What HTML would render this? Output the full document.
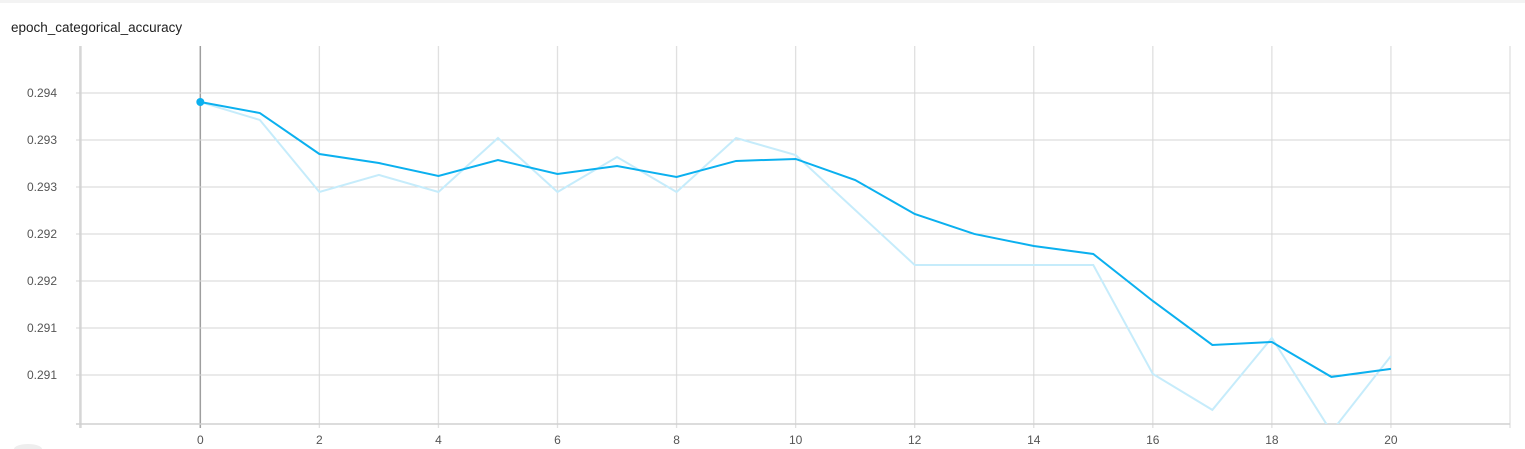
<!DOCTYPE html>
<html><head><meta charset="utf-8"><style>
html,body{margin:0;padding:0;background:#fff;width:1525px;height:449px;overflow:hidden;font-family:"Liberation Sans",sans-serif}
#top{position:absolute;left:0;top:0;width:1525px;height:3px;background:#f3f3f3}
#title{position:absolute;left:11px;top:20px;font-size:13.5px;color:#212121}
svg{position:absolute;left:0;top:0;overflow:hidden;display:block}
</style></head><body>
<div id="top"></div>
<div id="title">epoch_categorical_accuracy</div>
<svg id="chart" width="1525" height="449">
<defs><clipPath id="clip"><rect x="80" y="46" width="1430" height="378"/></clipPath></defs>
<g id="grid"></g><g id="axes"></g><g id="series" clip-path="url(#clip)"></g>
<path d="M14 449 A14 5 0 0 1 42 449 Z" fill="#eee"/>
</svg>
<script>
const epochs=[0,1,2,3,4,5,6,7,8,9,10,11,12,13,14,15,16,17,18,19,20];
const smoothed=[0.293904,0.293787,0.293351,0.293255,0.293117,0.293287,0.293138,0.293223,0.293106,0.293277,0.293298,0.293074,0.292713,0.2925,0.292372,0.292287,0.291787,0.291319,0.291351,0.290979,0.291064];
const raw=[0.293904,0.293713,0.292947,0.293128,0.292947,0.293521,0.292947,0.293319,0.292947,0.293521,0.29334,0.292755,0.29217,0.29217,0.29217,0.29217,0.291011,0.290628,0.291394,0.290394,0.291202];
const yTicks=[0.294,0.2935,0.293,0.2925,0.292,0.2915,0.291];
const yTickLabels=["0.294","0.293","0.293","0.292","0.292","0.291","0.291"];
const xTicks=[0,2,4,6,8,10,12,14,16,18,20];
const xGrid=[-2,0,2,4,6,8,10,12,14,16,18,20,22];

const X0=80,X1=1510,Y0=46,Y1=424;
const xMin=-2.021,xMax=22.0;
const yMax=0.2945,yMin=0.290478;
const sx=v=>X0+(v-xMin)/(xMax-xMin)*(X1-X0);
const sy=v=>Y0+(yMax-v)/(yMax-yMin)*(Y1-Y0);
const NS="http://www.w3.org/2000/svg";
function mk(t,a,p){const e=document.createElementNS(NS,t);for(const k in a)e.setAttribute(k,a[k]);p.appendChild(e);return e;}
const grid=document.getElementById('grid'),axes=document.getElementById('axes'),ser=document.getElementById('series');
xGrid.forEach(v=>{const x=sx(v);if(x<X0-2||x>X1+2)return;
 const l=mk('line',{x1:x,x2:x,y1:Y0,y2:Y1+4,stroke:v===0?'#9e9e9e':'#e0e0e0','stroke-width':v===0?1.5:1.3},grid);
 });
yTicks.forEach((v,i)=>{const y=sy(v);
 const l=mk('line',{x1:X0-4,x2:X1,y1:y,y2:y,stroke:'#d6d6d6','stroke-width':1},grid);
 
 const t=mk('text',{x:X0-23,y:y+4,'text-anchor':'end','font-size':12,fill:'#555','font-family':'Liberation Sans, sans-serif'},axes);
 t.textContent=yTickLabels[i];
 });
let a=mk('line',{x1:X0,x2:X0,y1:Y0,y2:Y1+4,stroke:'#d0d0d0','stroke-width':1.5},axes);

a=mk('line',{x1:X0-4,x2:X1,y1:Y1,y2:Y1,stroke:'#d0d0d0','stroke-width':1.5},axes);

xTicks.forEach(v=>{const t=mk('text',{x:sx(v),y:444,'text-anchor':'middle','font-size':12,fill:'#555','font-family':'Liberation Sans, sans-serif'},axes);
 t.textContent=v;});
const pts=arr=>arr.map((v,i)=>sx(epochs[i])+','+sy(v)).join(' ');
let p=mk('polyline',{points:pts(raw),fill:'none',stroke:'#c6ecfb','stroke-width':2},ser);

p=mk('polyline',{points:pts(smoothed),fill:'none',stroke:'#0bb0ef','stroke-width':2},ser);

const c=mk('circle',{cx:sx(epochs[0]),cy:sy(smoothed[0]),r:4,fill:'#0bb0ef'},ser);

</script>
</body></html>
